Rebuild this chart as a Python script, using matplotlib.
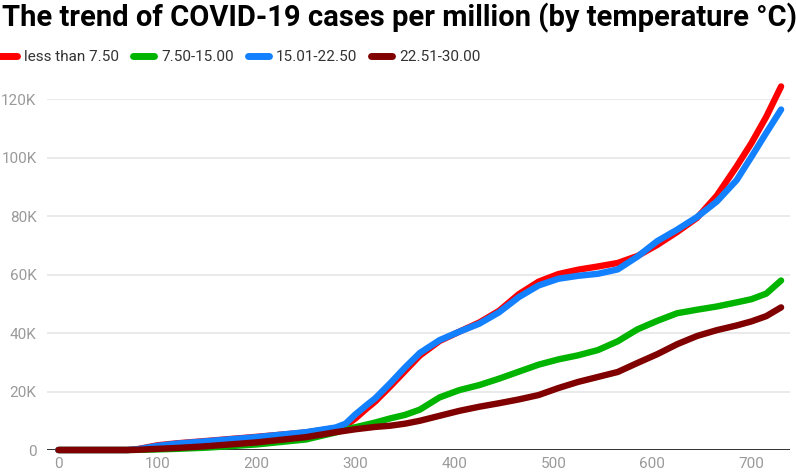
import matplotlib
matplotlib.use("Agg")
import matplotlib.pyplot as plt
from matplotlib.ticker import FuncFormatter
from matplotlib import font_manager

# pick a narrow font if one is installed
names = {f.name for f in font_manager.fontManager.ttflist}
FONT = "Liberation Sans Narrow" if "Liberation Sans Narrow" in names else "Roboto"
plt.rcParams["font.family"] = [FONT, "DejaVu Sans"]

# Days since start
days = [0, 70, 80, 100, 120, 150, 200, 250, 280, 290, 300, 310, 320, 335,
        350, 365, 385, 405, 425, 445, 465, 485, 505, 525, 545, 565, 585,
        605, 625, 645, 665, 685, 700, 715, 730]

# Cumulative cases per million, by temperature band
less_7_5 = [0, 0, 300, 1600, 2300, 3100, 4500, 6000, 7500, 8300, 10800,
            13800, 16600, 21700, 27000, 32300, 37300, 40500, 43600, 47600,
            53300, 57600, 60200, 61700, 62800, 64000, 66400, 70200, 74600,
            79400, 87000, 97000, 105000, 114000, 124400]
t7_5_15 = [0, 0, 50, 200, 400, 800, 1900, 3600, 6000, 7000, 7800, 8600,
           9400, 10800, 12000, 13800, 18000, 20500, 22200, 24400, 26800,
           29200, 31000, 32400, 34200, 37200, 41300, 44200, 46800, 48000,
           49100, 50500, 51600, 53500, 58000]
t15_22_5 = [0, 0, 250, 1400, 2200, 3000, 4400, 6100, 7700, 9000, 12200,
            15000, 17700, 22800, 28200, 33200, 37600, 40500, 43200, 47100,
            52300, 56300, 58600, 59600, 60300, 61800, 66200, 71500, 75400,
            79700, 85000, 92300, 100300, 108500, 116500]
t22_5_30 = [0, 0, 80, 400, 700, 1300, 2600, 4400, 6100, 6600, 7100, 7500,
            7900, 8300, 9000, 10000, 11700, 13400, 14800, 16000, 17300,
            18800, 21200, 23300, 25000, 26700, 29800, 32800, 36200, 39000,
            41000, 42600, 44000, 45800, 48800]

series = [
    ("less than 7.50", less_7_5, "#ff0000"),
    ("7.50-15.00", t7_5_15, "#00b400"),
    ("15.01-22.50", t15_22_5, "#1280ff"),
    ("22.51-30.00", t22_5_30, "#800000"),
]

y_ticks = [0, 20000, 40000, 60000, 80000, 100000, 120000]
x_ticks = [0, 100, 200, 300, 400, 500, 600, 700]

W, H = 796, 475
fig = plt.figure(figsize=(W / 100, H / 100), dpi=100)
ax = fig.add_axes([47 / W, 1 - 450 / H, (790 - 47) / W, (450 - 99.3) / H])

for label, vals, color in series:
    ax.plot(days, vals, color=color, lw=4.6, label=label,
            solid_capstyle="round", solid_joinstyle="round",
            clip_on=False, zorder=3)

ax.set_xlim(-11.6, 739)
ax.set_ylim(0, 120000)
ax.set_yticks(y_ticks)
ax.set_xticks(x_ticks)
ax.yaxis.set_major_formatter(FuncFormatter(
    lambda v, p: "0" if v == 0 else f"{int(v / 1000)}K"))

ax.grid(axis="y", color="#e6e6e6", lw=1.2, zorder=0)
ax.axhline(0, color="#000000", lw=1.1, zorder=2)
for s in ax.spines.values():
    s.set_visible(False)
ax.tick_params(axis="both", length=0, labelsize=11, colors="#9a9a9a")
ax.tick_params(axis="y", pad=7.5)
ax.tick_params(axis="x", pad=5)
for t in ax.get_yticklabels():
    t.set_ha("right")

fig.text(2 / W, 1 - 18 / H, "The trend of COVID-19 cases per million (by temperature \u00b0C)",
         fontsize=21, fontweight="bold", va="center", ha="left", color="#000000")

leg = ax.legend(loc="center left", bbox_to_anchor=(-4 / W, 1 - 57 / H),
                bbox_transform=fig.transFigure, ncol=4, frameon=False,
                fontsize=11, handlelength=1.4, handletextpad=0.45,
                columnspacing=0.9, borderaxespad=0, borderpad=0)
for t in leg.get_texts():
    t.set_color("#333333")
for h in leg.get_lines():
    h.set_linewidth(5)

fig.savefig("out.png", dpi=100)
